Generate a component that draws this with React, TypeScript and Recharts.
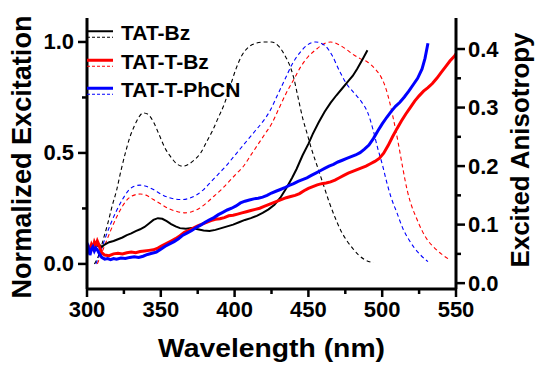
import { LineChart, Line, XAxis, YAxis, Legend } from "recharts";

const FONT = "'Liberation Sans', Arial, sans-serif";

const wavelengthTicks = [300, 325, 350, 375, 400, 425, 450, 475, 500, 525, 550];
const excitationTicks = [0, 0.25, 0.5, 0.75, 1.0];
const anisotropyTicks = [0, 0.05, 0.1, 0.15, 0.2, 0.25, 0.3, 0.35, 0.4];

const seriesNames = ["TAT-Bz", "TAT-T-Bz", "TAT-T-PhCN"];
const seriesColors = ["#000000", "#ff0000", "#0000ff"];
const solidWidths = [2, 3, 3];

// excitation spectra (dashed, left axis): [nm, normalized]
const bzExcitation = [
  [305, 0.0], [308, 0.04], [311, 0.11], [314, 0.18], [317, 0.26], [320, 0.33], [323, 0.42],
  [326, 0.5], [329, 0.57], [332, 0.62], [335, 0.66], [338, 0.68], [341, 0.675], [345, 0.64],
  [349, 0.58], [353, 0.52], [357, 0.48], [361, 0.45], [365, 0.44], [369, 0.45], [373, 0.47],
  [377, 0.5], [381, 0.55], [385, 0.6], [389, 0.66], [393, 0.72], [397, 0.8], [401, 0.88],
  [405, 0.94], [410, 0.98], [415, 0.995], [420, 1.0], [425, 1.0], [430, 0.98], [434, 0.94],
  [437, 0.9], [440, 0.84], [443, 0.75], [446, 0.66], [449, 0.59], [452, 0.52], [456, 0.44],
  [460, 0.36], [464, 0.28], [468, 0.21], [472, 0.15], [476, 0.105], [480, 0.07], [484, 0.04],
  [488, 0.02], [494, 0.005],
];
const ttBzExcitation = [
  [307, 0.0], [310, 0.05], [313, 0.1], [316, 0.15], [320, 0.21], [324, 0.26], [328, 0.295],
  [332, 0.31], [336, 0.315], [340, 0.31], [345, 0.29], [350, 0.27], [355, 0.25], [360, 0.238],
  [366, 0.23], [371, 0.235], [376, 0.25], [381, 0.275], [386, 0.305], [391, 0.335], [396, 0.37],
  [401, 0.405], [406, 0.44], [411, 0.49], [416, 0.54], [421, 0.59], [425, 0.63], [430, 0.7],
  [435, 0.77], [440, 0.83], [445, 0.89], [450, 0.935], [455, 0.965], [460, 0.99], [465, 1.0],
  [470, 0.99], [475, 0.97], [480, 0.945], [485, 0.925], [490, 0.91], [495, 0.88], [499, 0.845],
  [502, 0.8], [505, 0.73], [508, 0.64], [511, 0.54], [514, 0.43], [517, 0.33], [520, 0.26],
  [523, 0.21], [527, 0.15], [531, 0.105], [535, 0.075], [540, 0.045], [546, 0.018],
];
const phcnExcitation = [
  [306, 0.0], [309, 0.05], [312, 0.11], [316, 0.18], [320, 0.24], [324, 0.29], [328, 0.33],
  [332, 0.35], [336, 0.355], [340, 0.35], [345, 0.335], [350, 0.315], [355, 0.3], [360, 0.292],
  [364, 0.29], [369, 0.295], [374, 0.31], [379, 0.335], [384, 0.37], [389, 0.405], [394, 0.44],
  [399, 0.48], [404, 0.52], [409, 0.56], [414, 0.6], [419, 0.64], [424, 0.69], [429, 0.76],
  [434, 0.83], [439, 0.9], [444, 0.95], [449, 0.985], [455, 1.0], [461, 0.985], [466, 0.94],
  [471, 0.87], [476, 0.81], [481, 0.77], [486, 0.73], [490, 0.685], [494, 0.6], [497, 0.52],
  [500, 0.45], [503, 0.37], [506, 0.3], [510, 0.23], [514, 0.16], [518, 0.11], [522, 0.07],
  [526, 0.04], [531, 0.01],
];

// excited anisotropy (solid, right axis): [nm, r]
const bzAnisotropy = [
  [300, 0.05], [302, 0.058], [304, 0.06], [306, 0.062], [308, 0.066], [310, 0.062], [312, 0.066],
  [315, 0.07], [318, 0.072], [321, 0.075], [324, 0.078], [327, 0.082], [330, 0.085], [333, 0.089],
  [336, 0.092], [339, 0.096], [342, 0.102], [345, 0.108], [348, 0.111], [351, 0.11], [354, 0.106],
  [357, 0.101], [360, 0.097], [363, 0.094], [367, 0.093], [371, 0.094], [375, 0.092], [379, 0.09],
  [383, 0.089], [387, 0.091], [391, 0.094], [395, 0.097], [399, 0.1], [403, 0.104], [407, 0.108],
  [411, 0.111], [415, 0.115], [419, 0.12], [423, 0.126], [427, 0.134], [431, 0.146], [435, 0.162],
  [439, 0.18], [442, 0.195], [446, 0.218], [450, 0.238], [453, 0.255], [457, 0.275], [461, 0.293],
  [465, 0.308], [469, 0.321], [473, 0.333], [477, 0.345], [480, 0.354], [483, 0.366], [487, 0.384],
  [490, 0.398],
];
const ttBzAnisotropy = [
  [300, 0.055], [301, 0.062], [302, 0.058], [303, 0.066], [304, 0.06], [305, 0.07], [306, 0.064],
  [307, 0.072], [308, 0.066], [309, 0.058], [310, 0.052], [312, 0.048], [315, 0.047], [318, 0.05],
  [321, 0.051], [324, 0.05], [327, 0.052], [330, 0.053], [333, 0.052], [336, 0.054], [339, 0.055],
  [342, 0.056], [345, 0.057], [348, 0.06], [351, 0.064], [354, 0.068], [357, 0.072], [360, 0.076],
  [363, 0.081], [366, 0.087], [369, 0.09], [372, 0.094], [375, 0.098], [378, 0.101], [381, 0.104],
  [384, 0.107], [387, 0.109], [390, 0.11], [393, 0.112], [396, 0.115], [399, 0.116], [402, 0.118],
  [405, 0.12], [408, 0.122], [411, 0.124], [414, 0.126], [417, 0.128], [420, 0.131], [423, 0.134],
  [426, 0.137], [429, 0.14], [432, 0.143], [435, 0.146], [438, 0.148], [441, 0.15], [444, 0.153],
  [447, 0.158], [450, 0.162], [453, 0.165], [456, 0.168], [459, 0.17], [462, 0.171], [465, 0.173],
  [468, 0.176], [471, 0.18], [474, 0.184], [477, 0.188], [480, 0.191], [483, 0.194], [486, 0.197],
  [489, 0.2], [492, 0.204], [495, 0.208], [498, 0.213], [501, 0.222], [504, 0.235], [507, 0.25],
  [510, 0.264], [513, 0.277], [516, 0.289], [519, 0.3], [522, 0.311], [525, 0.32], [528, 0.328],
  [531, 0.334], [534, 0.341], [537, 0.35], [540, 0.36], [543, 0.37], [546, 0.38], [549, 0.388],
  [550, 0.392],
];
const phcnAnisotropy = [
  [300, 0.052], [301, 0.06], [302, 0.048], [303, 0.058], [304, 0.062], [305, 0.055], [306, 0.06],
  [307, 0.057], [308, 0.052], [309, 0.048], [310, 0.044], [312, 0.041], [314, 0.042], [316, 0.04],
  [318, 0.042], [320, 0.041], [323, 0.043], [326, 0.042], [329, 0.044], [332, 0.045], [335, 0.044],
  [338, 0.046], [341, 0.049], [344, 0.051], [347, 0.053], [350, 0.058], [353, 0.063], [356, 0.067],
  [359, 0.071], [362, 0.076], [365, 0.082], [368, 0.086], [371, 0.09], [374, 0.095], [377, 0.099],
  [380, 0.104], [383, 0.108], [386, 0.112], [389, 0.117], [392, 0.121], [395, 0.125], [398, 0.128],
  [401, 0.132], [404, 0.137], [407, 0.14], [410, 0.142], [413, 0.144], [416, 0.145], [419, 0.147],
  [422, 0.15], [425, 0.154], [428, 0.157], [431, 0.16], [434, 0.163], [437, 0.167], [440, 0.17],
  [443, 0.174], [446, 0.177], [449, 0.18], [452, 0.184], [455, 0.188], [458, 0.192], [461, 0.196],
  [464, 0.2], [467, 0.203], [470, 0.207], [473, 0.21], [476, 0.213], [479, 0.216], [482, 0.219],
  [485, 0.223], [488, 0.229], [491, 0.236], [494, 0.247], [497, 0.26], [500, 0.272], [503, 0.283],
  [506, 0.293], [509, 0.302], [512, 0.309], [515, 0.318], [518, 0.328], [521, 0.339], [524, 0.35],
  [527, 0.366], [529, 0.384], [531, 0.41],
];

const excitation = [bzExcitation, ttBzExcitation, phcnExcitation];
const anisotropy = [bzAnisotropy, ttBzAnisotropy, phcnAnisotropy];

const toPoints = (rows: number[][]) => rows.map(([x, y]) => ({ x, y }));

const isMultiple = (v: number, step: number) =>
  Math.abs(v / step - Math.round(v / step)) < 1e-6;

const tickText = { fontFamily: FONT, fontWeight: "bold" as const, fontSize: 22, fill: "#000" };

function LeftTick({ x, y, payload }: any) {
  const major = isMultiple(payload.value, 0.5);
  return (
    <g>
      <line x1={x} x2={x - (major ? 9 : 5)} y1={y} y2={y} stroke="#000" strokeWidth={2.5} />
      {major && (
        <text x={x - 13} y={y} textAnchor="end" dominantBaseline="central" {...tickText}>
          {payload.value.toFixed(1)}
        </text>
      )}
    </g>
  );
}

function RightTick({ x, y, payload }: any) {
  const major = isMultiple(payload.value, 0.1);
  return (
    <g>
      <line x1={x} x2={x + (major ? 9 : 5)} y1={y} y2={y} stroke="#000" strokeWidth={2.5} />
      {major && (
        <text x={x + 12} y={y} textAnchor="start" dominantBaseline="central" {...tickText}>
          {payload.value.toFixed(1)}
        </text>
      )}
    </g>
  );
}

function BottomTick({ x, y, payload }: any) {
  const major = isMultiple(payload.value, 50);
  return (
    <g>
      <line x1={x} x2={x} y1={y} y2={y + (major ? 8 : 5)} stroke="#000" strokeWidth={2.5} />
      {major && (
        <text x={x} y={y + 28} textAnchor="middle" {...tickText}>
          {payload.value}
        </text>
      )}
    </g>
  );
}

function AxisTitle({ title, tx, ty, rot, len, fs, central }: any) {
  return (
    <text
      x={tx}
      y={ty}
      textAnchor="middle"
      dominantBaseline={central ? "central" : "auto"}
      transform={rot ? `rotate(${rot} ${tx} ${ty})` : undefined}
      textLength={len}
      lengthAdjust="spacingAndGlyphs"
      fontFamily={FONT}
      fontWeight="bold"
      fontSize={fs}
      fill="#000"
    >
      {title}
    </text>
  );
}

function SeriesLegend() {
  return (
    <div style={{ fontFamily: FONT, fontWeight: "bold", fontSize: 21, color: "#000" }}>
      {seriesNames.map((name, i) => (
        <div key={name} style={{ display: "flex", alignItems: "center", height: 28.5 }}>
          <svg width={26} height={28.5} style={{ display: "block" }}>
            <line x1={0} x2={26} y1={12.25} y2={12.25} stroke={seriesColors[i]} strokeWidth={solidWidths[i]} />
            <line x1={0} x2={26} y1={18.25} y2={18.25} stroke={seriesColors[i]} strokeWidth={1} strokeDasharray="3 2" />
          </svg>
          <span style={{ marginLeft: 8, lineHeight: "28.5px" }}>{name}</span>
        </div>
      ))}
    </div>
  );
}

export default function App() {
  return (
    <div style={{ position: "absolute", left: 0, top: 0, width: 538, height: 366, background: "#fff" }}>
      <LineChart width={538} height={366} margin={{ top: 18, right: 0, bottom: 0, left: 0 }}>
        <XAxis
          dataKey="x"
          type="number"
          domain={[300, 550]}
          ticks={wavelengthTicks}
          interval={0}
          height={77}
          tickSize={0}
          tickMargin={0}
          tickLine={false}
          tick={<BottomTick />}
          axisLine={{ stroke: "#000", strokeWidth: 3 }}
          allowDataOverflow
          label={<AxisTitle title="Wavelength (nm)" tx={271.5} ty={357} len={227} fs={25} />}
        />
        <XAxis
          xAxisId="top"
          orientation="top"
          dataKey="x"
          type="number"
          domain={[300, 550]}
          height={0}
          tick={false}
          tickLine={false}
          axisLine={{ stroke: "#000", strokeWidth: 2.5 }}
        />
        <YAxis
          yAxisId="exc"
          type="number"
          domain={[-0.113, 1.108]}
          ticks={excitationTicks}
          interval={0}
          width={87}
          tickSize={0}
          tickMargin={0}
          tickLine={false}
          tick={<LeftTick />}
          axisLine={{ stroke: "#000", strokeWidth: 3 }}
          allowDataOverflow
          label={<AxisTitle title="Normalized Excitation" tx={22} ty={157} rot={-90} len={283} fs={27} central />}
        />
        <YAxis
          yAxisId="ani"
          orientation="right"
          type="number"
          domain={[-0.01, 0.453]}
          ticks={anisotropyTicks}
          interval={0}
          width={82}
          tickSize={0}
          tickMargin={0}
          tickLine={false}
          tick={<RightTick />}
          axisLine={{ stroke: "#000", strokeWidth: 3 }}
          allowDataOverflow
          label={<AxisTitle title="Excited Anisotropy" tx={520} ty={150} rot={-90} len={235} fs={26} central />}
        />
        <Legend
          layout="vertical"
          align="center"
          verticalAlign="middle"
          content={() => <SeriesLegend />}
          wrapperStyle={{ left: 87, top: 19, width: "auto", height: "auto" }}
        />
        {excitation.map((rows, i) => (
          <Line
            key={"exc-" + seriesNames[i]}
            data={toPoints(rows)}
            dataKey="y"
            yAxisId="exc"
            type="monotone"
            stroke={seriesColors[i]}
            strokeWidth={1.1}
            strokeDasharray="4 3"
            dot={false}
            activeDot={false}
            legendType="none"
            isAnimationActive={false}
          />
        ))}
        {anisotropy.map((rows, i) => (
          <Line
            key={"ani-" + seriesNames[i]}
            data={toPoints(rows)}
            dataKey="y"
            yAxisId="ani"
            type="linear"
            stroke={seriesColors[i]}
            strokeWidth={solidWidths[i]}
            dot={false}
            activeDot={false}
            legendType="none"
            isAnimationActive={false}
          />
        ))}
      </LineChart>
    </div>
  );
}
